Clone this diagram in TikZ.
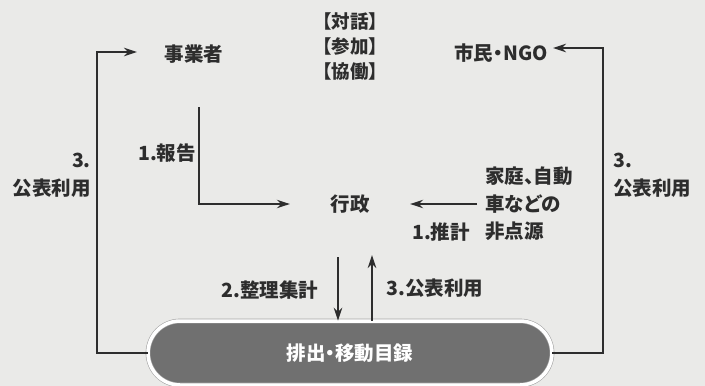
\documentclass[tikz,border=0pt]{standalone}
\usepackage{fontspec}
\setmainfont{Noto Sans CJK JP}
\newfontfamily\paltfont{Noto Sans CJK JP}[RawFeature=+palt]
\usetikzlibrary{shapes.misc,arrows.meta}
\definecolor{bg}{RGB}{234,234,232}
\definecolor{ink}{RGB}{45,45,45}
\definecolor{pillfill}{RGB}{112,112,112}
\tikzset{
  lbl/.style={font=\fontsize{19.5}{28}\selectfont\bfseries, text=ink, inner sep=0pt},
  plbl/.style={lbl, font=\fontsize{19.5}{27.5}\selectfont\paltfont\bfseries},
  small/.style={font=\fontsize{18.5}{25}\selectfont\bfseries, text=ink, inner sep=0pt, align=center},
  arr/.style={draw=ink, line width=1.3pt, -{Stealth[length=13pt,width=8.5pt]}},
  pillbox/.style={rounded rectangle, fill=pillfill, draw=gray!70, double=white, double distance=3.5pt, line width=0.6pt, minimum width=404pt, minimum height=64pt, inner sep=0pt}
}
\begin{document}
\begin{tikzpicture}[x=1pt,y=-1pt]
\useasboundingbox (0,0) rectangle (705,386);
\fill[bg] (0,0) rectangle (705,386);
% nodes
\node[lbl] (biz) at (194,54) {事業者};
\node[plbl] (shimin) at (501,53) {市民・NGO};
\node[lbl, minimum width=120pt] (gyosei) at (350,204) {行政};
\node[small] (talk) at (350,47) {【対話】\\【参加】\\【協働】};
\node[plbl, align=left, anchor=west] (src) at (485,204) {家庭、自動\\車などの\\非点源};
\node[pillbox] (pill) at (350,353) {};
\node[plbl, text=white] (pilltxt) at (350,353) {排出・移動目録};
% labels
\node[lbl] (l1) at (167,153) {1.報告};
\node[lbl, align=right, anchor=east] (l3l) at (91,175) {3.\\公表利用};
\node[lbl, align=left, anchor=west] (l3r) at (613,175) {3.\\公表利用};
\node[lbl] (l1b) at (441,232) {1.推計};
\node[lbl] (l2) at (270,290) {2.整理集計};
\node[lbl] (l3c) at (435,288) {3.公表利用};
% coordinates
\coordinate (rtop) at (199,107);
\coordinate (srcend) at (477,204);
\coordinate (d1) at (338,257);
\coordinate (u1) at (372,255);
% connectors
\draw[arr] (rtop) |- (gyosei.west);
\draw[arr] (srcend) -- (gyosei.east);
\draw[arr] (d1) -- (d1 |- pill.north);
\draw[arr] (u1 |- pill.north) -- (u1);
\draw[arr] (pill.west) -| (97,52) -- (137,52);
\draw[arr] (pill.east) -| (603,48) -- (553,48);
\end{tikzpicture}
\end{document}
